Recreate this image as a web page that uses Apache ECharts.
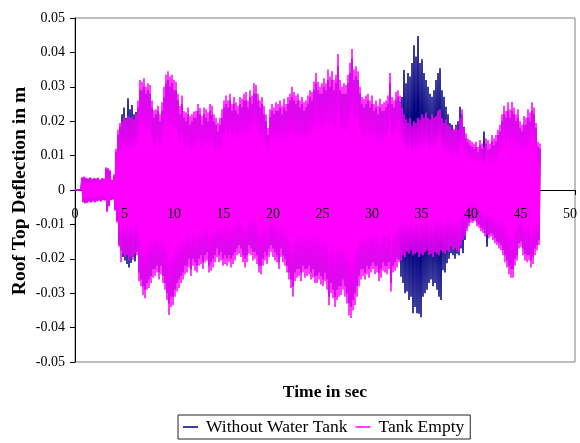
<!DOCTYPE html>
<html>
<head>
<meta charset="utf-8">
<script src="https://cdn.jsdelivr.net/npm/echarts@6/dist/echarts.min.js"></script>
<style>
  html, body { margin: 0; padding: 0; background: #fff; }
  #chart { width: 580px; height: 443px; }
</style>
</head>
<body>
<div id="chart"></div>
<script>
// Roof top deflection time history (m) — extrema of the response, one every 0.1 s.
const sampleStep = 0.1;          // s between successive extrema
const xTicks = { min: 0, max: 50, step: 5 };
const yTicks = { min: -0.05, max: 0.05, step: 0.01 };
const seriesNames = ['Without Water Tank', 'Tank Empty'];

// Without Water Tank: positive peaks (t = 0.1, 0.3, 0.5, ...)
const noTankPeaks = [
  0, 0, 0, 0.0035, 0.0037,
  0.0034, 0.0032, 0.0035, 0.0031, 0.0033,
  0.0032, 0.0034, 0.0029, 0.0033, 0.0031,
  0.0062, 0.0060, 0.0054, 0.0028, 0.0042,
  0.011, 0.016, 0.0185, 0.022, 0.024,
  0.021, 0.0267, 0.0235, 0.0247, 0.022,
  0.0227, 0.024, 0.029, 0.029, 0.030,
  0.028, 0.029, 0.028, 0.024, 0.021,
  0.022, 0.023, 0.020, 0.023, 0.027,
  0.031, 0.032, 0.030, 0.031, 0.029,
  0.029, 0.026, 0.022, 0.025, 0.021,
  0.020, 0.022, 0.019, 0.020, 0.021,
  0.021, 0.023, 0.022, 0.019, 0.022,
  0.021, 0.020, 0.023, 0.022, 0.020,
  0.019, 0.017, 0.019, 0.021, 0.024,
  0.025, 0.024, 0.026, 0.023, 0.025,
  0.023, 0.022, 0.025, 0.024, 0.026,
  0.026, 0.024, 0.027, 0.025, 0.028,
  0.028, 0.026, 0.024, 0.025, 0.022,
  0.020, 0.016, 0.021, 0.023, 0.022,
  0.023, 0.023, 0.024, 0.022, 0.024,
  0.023, 0.025, 0.026, 0.027, 0.026,
  0.025, 0.026, 0.024, 0.025, 0.023,
  0.024, 0.025, 0.027, 0.026, 0.029,
  0.031, 0.029, 0.028, 0.028, 0.030,
  0.029, 0.032, 0.030, 0.032, 0.029,
  0.031, 0.036, 0.029, 0.028, 0.028,
  0.028, 0.031, 0.034, 0.038, 0.032,
  0.033, 0.032, 0.028, 0.025, 0.024,
  0.025, 0.026, 0.024, 0.025, 0.023,
  0.024, 0.022, 0.024, 0.023, 0.023,
  0.024, 0.025, 0.031, 0.025, 0.024,
  0.026, 0.0271, 0.0257, 0.027, 0.0349,
  0.031, 0.034, 0.033, 0.0369, 0.0421,
  0.0388, 0.0448, 0.0369, 0.038, 0.034,
  0.032, 0.030, 0.028, 0.0271, 0.029,
  0.032, 0.034, 0.0354, 0.029, 0.0271,
  0.0242, 0.022, 0.0194, 0.019, 0.0174,
  0.019, 0.020, 0.0242, 0.022, 0.0184,
  0.015, 0.014, 0.013, 0.0125, 0.012,
  0.0125, 0.011, 0.013, 0.012, 0.017,
  0.0135, 0.0116, 0.012, 0.014, 0.013,
  0.014, 0.016, 0.017, 0.020, 0.022,
  0.021, 0.023, 0.021, 0.023, 0.022,
  0.020, 0.021, 0.018, 0.017, 0.019,
  0.019, 0.021, 0.020, 0.023, 0.022,
  0.018, 0.0125, 0.012
];
// Without Water Tank: negative troughs (t = 0.2, 0.4, 0.6, ...)
const noTankTroughs = [
  0, 0, 0, -0.0034, -0.0037,
  -0.0036, -0.0033, -0.0035, -0.0032, -0.0034,
  -0.0031, -0.0030, -0.0032, -0.0028, -0.0029,
  -0.0060, -0.0045, -0.0028, -0.0026, -0.0056,
  -0.009, -0.016, -0.0175, -0.0195, -0.0205,
  -0.0215, -0.0225, -0.0212, -0.0195, -0.0208,
  -0.018, -0.024, -0.026, -0.028, -0.029,
  -0.027, -0.026, -0.025, -0.023, -0.023,
  -0.022, -0.024, -0.022, -0.025, -0.027,
  -0.030, -0.033, -0.031, -0.031, -0.029,
  -0.027, -0.026, -0.025, -0.024, -0.022,
  -0.022, -0.020, -0.023, -0.020, -0.021,
  -0.022, -0.020, -0.019, -0.021, -0.019,
  -0.018, -0.022, -0.021, -0.020, -0.019,
  -0.017, -0.019, -0.018, -0.020, -0.019,
  -0.020, -0.019, -0.020, -0.019, -0.018,
  -0.017, -0.016, -0.017, -0.019, -0.020,
  -0.019, -0.016, -0.017, -0.018, -0.018,
  -0.019, -0.022, -0.022, -0.020, -0.018,
  -0.019, -0.017, -0.016, -0.017, -0.018,
  -0.019, -0.021, -0.017, -0.019, -0.020,
  -0.022, -0.024, -0.026, -0.028, -0.024,
  -0.023, -0.023, -0.024, -0.022, -0.023,
  -0.023, -0.022, -0.024, -0.023, -0.025,
  -0.025, -0.024, -0.025, -0.026, -0.024,
  -0.026, -0.031, -0.027, -0.029, -0.031,
  -0.029, -0.028, -0.028, -0.026, -0.028,
  -0.030, -0.033, -0.034, -0.032, -0.030,
  -0.028, -0.025, -0.023, -0.023, -0.024,
  -0.022, -0.023, -0.022, -0.021, -0.022,
  -0.022, -0.024, -0.023, -0.021, -0.022,
  -0.022, -0.021, -0.027, -0.022, -0.021,
  -0.020, -0.0203, -0.0252, -0.027, -0.030,
  -0.0295, -0.032, -0.031, -0.0358, -0.034,
  -0.0358, -0.036, -0.037, -0.031, -0.030,
  -0.029, -0.027, -0.026, -0.028, -0.027,
  -0.029, -0.031, -0.032, -0.0233, -0.024,
  -0.0213, -0.020, -0.0184, -0.019, -0.020,
  -0.0185, -0.019, -0.017, -0.0184, -0.0145,
  -0.011, -0.0095, -0.0085, -0.009, -0.0085,
  -0.0095, -0.010, -0.011, -0.0115, -0.0125,
  -0.0165, -0.013, -0.0125, -0.013, -0.014,
  -0.015, -0.0155, -0.016, -0.0175, -0.019,
  -0.0205, -0.022, -0.023, -0.023, -0.020,
  -0.019, -0.0155, -0.015, -0.017, -0.0185,
  -0.019, -0.019, -0.0205, -0.0195, -0.017,
  -0.016, -0.0145
];

// Tank Empty: positive peaks (t = 0.1, 0.3, 0.5, ...)
const tankEmptyPeaks = [
  0, 0, 0, 0.0037, 0.0039,
  0.0036, 0.0034, 0.0037, 0.0033, 0.0035,
  0.0034, 0.0036, 0.0031, 0.0035, 0.0033,
  0.0066, 0.0064, 0.0058, 0.0030, 0.0045,
  0.012, 0.0175, 0.0195, 0.020, 0.0213,
  0.0205, 0.0215, 0.021, 0.0212, 0.0205,
  0.022, 0.026, 0.032, 0.0315, 0.0325,
  0.030, 0.031, 0.0305, 0.026, 0.0232,
  0.0235, 0.0245, 0.022, 0.0255, 0.030,
  0.0335, 0.0345, 0.033, 0.0335, 0.032,
  0.0315, 0.028, 0.0245, 0.0275, 0.023,
  0.0225, 0.024, 0.0215, 0.022, 0.0228,
  0.023, 0.025, 0.0238, 0.0215, 0.024,
  0.0235, 0.0225, 0.025, 0.0245, 0.022,
  0.021, 0.0195, 0.021, 0.0235, 0.026,
  0.0275, 0.026, 0.028, 0.025, 0.027,
  0.0255, 0.0245, 0.027, 0.0265, 0.028,
  0.0285, 0.026, 0.029, 0.0275, 0.031,
  0.0305, 0.028, 0.026, 0.027, 0.0245,
  0.022, 0.018, 0.0235, 0.025, 0.024,
  0.0255, 0.025, 0.026, 0.0245, 0.0265,
  0.025, 0.027, 0.028, 0.030, 0.0285,
  0.0275, 0.028, 0.026, 0.027, 0.0255,
  0.026, 0.0275, 0.029, 0.0285, 0.0315,
  0.034, 0.0315, 0.030, 0.031, 0.0325,
  0.031, 0.035, 0.033, 0.0345, 0.032,
  0.0335, 0.0395, 0.032, 0.030, 0.031,
  0.0305, 0.0335, 0.037, 0.041, 0.035,
  0.036, 0.0345, 0.030, 0.027, 0.0265,
  0.0275, 0.028, 0.026, 0.0275, 0.025,
  0.026, 0.0245, 0.0265, 0.025, 0.0255,
  0.026, 0.0275, 0.034, 0.027, 0.026,
  0.0285, 0.029, 0.0275, 0.024, 0.022,
  0.0205, 0.0195, 0.021, 0.0185, 0.020,
  0.0195, 0.021, 0.0205, 0.022, 0.021,
  0.0225, 0.021, 0.0205, 0.022, 0.021,
  0.0215, 0.023, 0.0235, 0.021, 0.0195,
  0.0205, 0.019, 0.0185, 0.0175, 0.0178,
  0.0185, 0.0175, 0.021, 0.0235, 0.018,
  0.0165, 0.015, 0.0145, 0.014, 0.0135,
  0.014, 0.0125, 0.0145, 0.0135, 0.0125,
  0.015, 0.0145, 0.0135, 0.016, 0.015,
  0.016, 0.0175, 0.019, 0.022, 0.0245,
  0.023, 0.0255, 0.0235, 0.0256, 0.024,
  0.022, 0.0235, 0.020, 0.019, 0.0215,
  0.021, 0.0235, 0.0225, 0.0255, 0.024,
  0.0195, 0.014, 0.0135
];
// Tank Empty: negative troughs (t = 0.2, 0.4, 0.6, ...)
const tankEmptyTroughs = [
  0, 0, 0, -0.0036, -0.0039,
  -0.0038, -0.0035, -0.0037, -0.0034, -0.0036,
  -0.0033, -0.0032, -0.0034, -0.0030, -0.0031,
  -0.0064, -0.0048, -0.0030, -0.0028, -0.0060,
  -0.0095, -0.0165, -0.021, -0.0185, -0.0195,
  -0.019, -0.0205, -0.0195, -0.0203, -0.0185,
  -0.019, -0.0265, -0.028, -0.0305, -0.0315,
  -0.029, -0.0285, -0.027, -0.0255, -0.025,
  -0.024, -0.026, -0.0245, -0.027, -0.029,
  -0.032, -0.0363, -0.034, -0.0335, -0.031,
  -0.0295, -0.0285, -0.027, -0.026, -0.0245,
  -0.024, -0.0225, -0.025, -0.022, -0.0235,
  -0.024, -0.022, -0.0215, -0.023, -0.021,
  -0.0205, -0.024, -0.0235, -0.0225, -0.021,
  -0.0195, -0.021, -0.0205, -0.022, -0.0215,
  -0.022, -0.021, -0.0225, -0.0215, -0.0205,
  -0.019, -0.0185, -0.0195, -0.021, -0.0225,
  -0.021, -0.0185, -0.019, -0.0205, -0.020,
  -0.0215, -0.024, -0.0245, -0.022, -0.0205,
  -0.0215, -0.0195, -0.018, -0.0195, -0.0205,
  -0.021, -0.023, -0.0195, -0.021, -0.022,
  -0.024, -0.026, -0.0285, -0.031, -0.0265,
  -0.0255, -0.025, -0.0265, -0.024, -0.0255,
  -0.025, -0.0245, -0.026, -0.0255, -0.027,
  -0.027, -0.026, -0.0275, -0.028, -0.0265,
  -0.029, -0.0335, -0.030, -0.0315, -0.034,
  -0.032, -0.031, -0.0305, -0.029, -0.031,
  -0.033, -0.0365, -0.0372, -0.035, -0.0335,
  -0.031, -0.028, -0.026, -0.025, -0.026,
  -0.0245, -0.0255, -0.024, -0.023, -0.0245,
  -0.024, -0.0265, -0.0255, -0.0235, -0.024,
  -0.0245, -0.023, -0.0295, -0.024, -0.0235,
  -0.0225, -0.021, -0.0205, -0.019, -0.0195,
  -0.018, -0.0185, -0.0175, -0.019, -0.0185,
  -0.018, -0.0195, -0.0185, -0.019, -0.018,
  -0.0175, -0.019, -0.0185, -0.0195, -0.018,
  -0.0185, -0.019, -0.0175, -0.018, -0.0185,
  -0.0175, -0.018, -0.0165, -0.0175, -0.017,
  -0.0175, -0.018, -0.016, -0.0145, -0.0135,
  -0.012, -0.0105, -0.0095, -0.0095, -0.009,
  -0.0105, -0.011, -0.012, -0.0125, -0.0135,
  -0.013, -0.014, -0.0135, -0.0145, -0.0155,
  -0.016, -0.017, -0.0175, -0.019, -0.021,
  -0.0225, -0.0245, -0.0255, -0.0255, -0.022,
  -0.0205, -0.017, -0.0165, -0.019, -0.0205,
  -0.021, -0.0205, -0.0225, -0.0215, -0.019,
  -0.0175, -0.016
];

// Interleave peaks and troughs into [time, deflection] pairs.
function toTimeHistory(peaks, troughs) {
  const pts = [[0, 0]];
  for (let i = 0; i < peaks.length; i++) {
    pts.push([+((2 * i + 1) * sampleStep).toFixed(2), peaks[i]]);
    if (i < troughs.length) {
      pts.push([+((2 * i + 2) * sampleStep).toFixed(2), troughs[i]]);
    }
  }
  return pts;
}

const serif = "'Liberation Serif', 'Times New Roman', serif";
const chart = echarts.init(document.getElementById('chart'), null, { renderer: 'canvas' });

const gridRect = { left: 75, right: 5, top: 18, bottom: 81 };
const plotHeight = 443 - gridRect.top - gridRect.bottom;

chart.setOption({
  animation: false,
  backgroundColor: '#ffffff',
  grid: [
    Object.assign({ show: true, borderColor: '#808080', borderWidth: 1, backgroundColor: 'transparent' }, gridRect),
    Object.assign({ show: false }, gridRect)
  ],
  xAxis: [
    {
      type: 'value', gridIndex: 0,
      min: xTicks.min, max: xTicks.max, interval: xTicks.step,
      axisLine: { onZero: true, lineStyle: { color: '#000', width: 1 } },
      axisTick: { show: true, inside: false, length: 5, lineStyle: { color: '#000' } },
      axisLabel: { show: false },
      splitLine: { show: false }
    },
    {
      // tick labels drawn above the traces, level with the zero line
      type: 'value', gridIndex: 1, z: 10, position: 'bottom',
      offset: -plotHeight * (0 - yTicks.min) / (yTicks.max - yTicks.min),
      min: xTicks.min, max: xTicks.max, interval: xTicks.step,
      axisLine: { show: false, onZero: false },
      axisTick: { show: false },
      axisLabel: { show: true, margin: 17, color: '#000', fontFamily: serif, fontSize: 14 },
      splitLine: { show: false }
    }
  ],
  yAxis: [
    {
      type: 'value', gridIndex: 0,
      min: yTicks.min, max: yTicks.max, interval: yTicks.step,
      axisLine: { show: true, lineStyle: { color: '#000', width: 1 } },
      axisTick: { show: true, inside: false, length: 5, lineStyle: { color: '#000' } },
      axisLabel: {
        margin: 10, color: '#000', fontFamily: serif, fontSize: 14,
        formatter: v => (Math.abs(v) < 1e-9 ? '0' : v.toFixed(2))
      },
      splitLine: { show: false }
    },
    {
      type: 'value', gridIndex: 1,
      min: yTicks.min, max: yTicks.max, interval: yTicks.step,
      axisLine: { show: false }, axisTick: { show: false },
      axisLabel: { show: false }, splitLine: { show: false }
    }
  ],
  legend: {
    left: 178, top: 415,
    padding: [3, 6, 3, 5],
    borderColor: '#222', borderWidth: 1,
    backgroundColor: '#fff',
    icon: 'rect', itemWidth: 15, itemHeight: 1.5, itemGap: 8,
    textStyle: { fontFamily: serif, fontSize: 17.5, color: '#000', padding: [0, 0, 0, 3] },
    data: seriesNames
  },
  graphic: [
    {
      type: 'text', z: 20,
      x: 325, y: 392,
      style: {
        text: 'Time in sec', font: 'bold 17.5px ' + serif, fill: '#000',
        textAlign: 'center', textVerticalAlign: 'middle'
      }
    },
    {
      type: 'text', z: 20,
      x: 20, y: 191, rotation: Math.PI / 2,
      style: {
        text: 'Roof Top Deflection in m', font: 'bold 19.5px ' + serif, fill: '#000',
        textAlign: 'center', textVerticalAlign: 'middle'
      }
    }
  ],
  series: [
    {
      name: seriesNames[0], type: 'line', xAxisIndex: 0, yAxisIndex: 0,
      data: toTimeHistory(noTankPeaks, noTankTroughs),
      symbol: 'none', showSymbol: false, sampling: null,
      lineStyle: { color: '#000080', width: 1.5 }, itemStyle: { color: '#000080' },
      z: 2
    },
    {
      name: seriesNames[1], type: 'line', xAxisIndex: 0, yAxisIndex: 0,
      data: toTimeHistory(tankEmptyPeaks, tankEmptyTroughs),
      symbol: 'none', showSymbol: false, sampling: null,
      lineStyle: { color: '#ff00ff', width: 1.5 }, itemStyle: { color: '#ff00ff' },
      z: 3
    }
  ]
});
</script>
</body>
</html>
